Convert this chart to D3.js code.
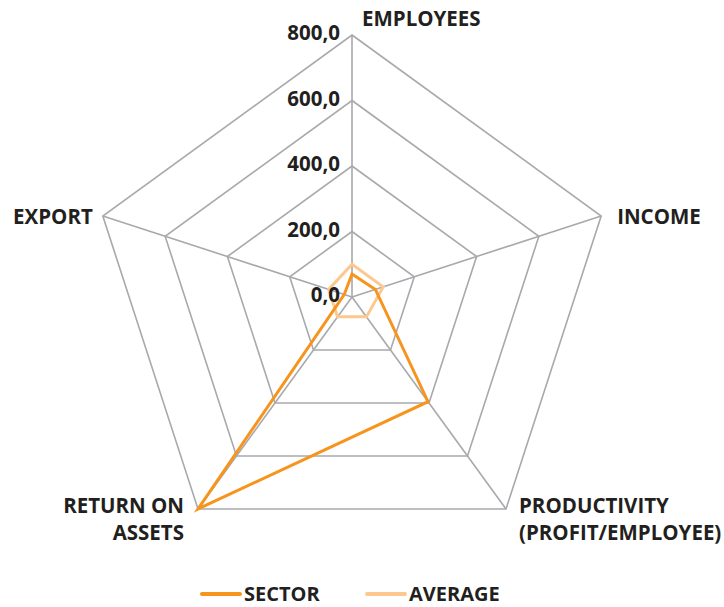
<!DOCTYPE html>
<html lang="en">
<head>
    <meta charset="UTF-8">
    <script src="https://d3js.org/d3.v7.min.js"></script>
    <title>Radar chart</title>
    <style>
        body { margin: 0; background: #fff; }
        text { font-family: "Open Sans", sans-serif; font-weight: 700; fill: #231f20; }
    </style>
</head>
<body>
    <script>
        var w = 724;
        var h = 607;

        var axes = ["EMPLOYEES", "INCOME", "PRODUCTIVITY|(PROFIT/EMPLOYEE)", "RETURN ON|ASSETS", "EXPORT"];
        var sector = [70, 75, 395, 800, 25];
        var average = [100, 100, 75, 75, 75];
        var ticks = [0, 200, 400, 600, 800];
        var seriesNames = ["SECTOR", "AVERAGE"];

        var cx = 352, cy = 297, R = 262;
        var colors = ["#f7941d", "#fdc890"];

        var r = d3.scaleLinear().domain([0, 800]).range([0, R]);
        var angle = d3.scalePoint().domain(d3.range(axes.length + 1)).range([0, 2 * Math.PI]);

        var radial = d3.lineRadial()
            .angle(function(d, i) { return angle(i); })
            .radius(function(d) { return r(d); })
            .curve(d3.curveLinearClosed);

        var svg = d3.select("body")
            .append("svg")
            .attr("width", w)
            .attr("height", h);

        var g = svg.append("g")
            .attr("transform", "translate(" + cx + "," + cy + ")");

        // grid rings
        g.selectAll("path.ring")
            .data(ticks.slice(1))
            .enter()
            .append("path")
            .attr("class", "ring")
            .attr("d", function(t) { return radial(axes.map(function() { return t; })); })
            .attr("fill", "none")
            .attr("stroke", "#a7a9ac")
            .attr("stroke-width", 1.6);

        // spokes
        g.selectAll("line.spoke")
            .data(axes)
            .enter()
            .append("line")
            .attr("x2", function(d, i) { return r(800) * Math.sin(angle(i)); })
            .attr("y2", function(d, i) { return -r(800) * Math.cos(angle(i)); })
            .attr("stroke", "#a7a9ac")
            .attr("stroke-width", 1.6);

        // series
        var series = [average, sector];
        g.selectAll("path.series")
            .data(series)
            .enter()
            .append("path")
            .attr("d", function(d) { return radial(d); })
            .attr("fill", "none")
            .attr("stroke", function(d, i) { return i === 0 ? colors[1] : colors[0]; })
            .attr("stroke-width", 3)
            .attr("stroke-linejoin", "miter");

        // tick labels
        var fmt = function(v) { return d3.format(".1f")(v).replace(".", ","); };
        g.selectAll("text.tick")
            .data(ticks)
            .enter()
            .append("text")
            .attr("x", -12)
            .attr("y", function(t) { return -r(t) - 2; })
            .attr("dy", "0.36em")
            .attr("text-anchor", "end")
            .style("font-size", "20.5px")
            .text(fmt);

        // axis labels
        var lab = [
            {dx: 10, dy: -9, anchor: "start"},
            {dx: 16, dy: 8, anchor: "start"},
            {dx: 13, dy: 4, anchor: "start"},
            {dx: -14, dy: 4, anchor: "end"},
            {dx: -10, dy: 8, anchor: "end"}
        ];
        axes.forEach(function(name, i) {
            var x = r(800) * Math.sin(angle(i));
            var y = -r(800) * Math.cos(angle(i));
            var t = g.append("text")
                .attr("text-anchor", lab[i].anchor)
                .style("font-size", "20.5px");
            name.split("|").forEach(function(line, j) {
                t.append("tspan")
                    .attr("x", x + lab[i].dx)
                    .attr("y", y + lab[i].dy + j * 27)
                    .text(line);
            });
        });

        // legend
        var legend = svg.append("g").attr("transform", "translate(0,594)");
        var lx = [202, 367];
        seriesNames.forEach(function(name, i) {
            legend.append("line")
                .attr("x1", lx[i]).attr("x2", lx[i] + 38)
                .attr("stroke", colors[i])
                .attr("stroke-width", 4)
                .attr("stroke-linecap", "round");
            legend.append("text")
                .attr("x", lx[i] + 42)
                .attr("y", 7)
                .style("font-size", "20px")
                .text(name);
        });
    </script>
</body>
</html>
